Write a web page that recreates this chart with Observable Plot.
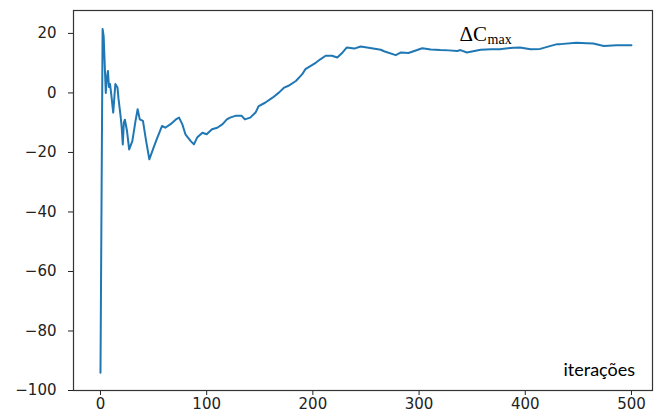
<!DOCTYPE html>
<html>
<head>
<meta charset="utf-8">
<script src="https://cdn.jsdelivr.net/npm/d3@7"></script>
<script src="https://cdn.jsdelivr.net/npm/@observablehq/plot@0.6"></script>
<style>
  html, body { margin: 0; padding: 0; background: #fff; }
  #chart svg { display: block; }
</style>
</head>
<body>
<div id="chart"></div>
<script>
// iteration index and ΔCmax value
const iterations = [0, 2, 3, 5, 6, 7, 8, 9, 10, 12, 14, 16, 17, 19, 20, 21, 22, 23, 25, 27, 30, 33, 35, 37, 40, 43, 46, 50, 53, 56, 58, 61, 66, 71, 74, 77, 80, 85, 88, 91, 96, 100, 105, 110, 115, 119, 122, 127, 133, 136, 141, 146, 149, 155, 162, 168, 173, 177, 184, 190, 193, 198, 203, 207, 212, 218, 223, 228, 232, 239, 245, 251, 264, 267, 278, 283, 290, 303, 311, 320, 328, 336, 339, 345, 358, 368, 376, 389, 395, 405, 414, 424, 430, 433, 448, 458, 464, 471, 474, 486, 500];
const values = [-94, 21.5, 19, 0, 5, 7.4, 2, 3, 0, -6.6, 3, 1.8, -2, -8, -11.7, -17.3, -10, -9, -12.8, -19, -16.2, -9.4, -5.5, -8.9, -9.4, -16.2, -22.3, -18.4, -15.5, -12.8, -11.1, -11.7, -10.5, -8.9, -8.3, -10.5, -13.9, -16.2, -17.3, -15, -13.4, -13.9, -12.2, -11.7, -10.5, -8.9, -8.3, -7.7, -7.7, -8.9, -8.3, -6.6, -4.4, -3.3, -1.6, 0.1, 1.8, 2.4, 4, 6.3, 8, 9.1, 10.2, 11.3, 12.5, 12.5, 11.9, 13.6, 15.3, 14.9, 15.6, 15.3, 14.5, 14.0, 12.7, 13.6, 13.4, 15, 14.6, 14.4, 14.3, 14.1, 14.4, 13.6, 14.5, 14.7, 14.7, 15.2, 15.3, 14.7, 14.8, 15.8, 16.4, 16.4, 16.9, 16.7, 16.6, 16.0, 15.8, 16.0, 16.0];

const xTicks = [0, 100, 200, 300, 400, 500];
const yTicks = [-100, -80, -60, -40, -20, 0, 20];

// annotation labels (data-space anchors)
const seriesLabel = [{x: 338, y: 17.5, text: "ΔC"}];
const seriesLabelSub = [{x: 364.5, y: 16.5, text: "max"}];
const axisLabel = [{x: 436, y: -95, text: "iterações"}];

const data = iterations.map((it, i) => ({it, v: values[i]}));

const chart = Plot.plot({
  width: 657,
  height: 414,
  marginLeft: 73,
  marginRight: 5,
  marginTop: 10,
  marginBottom: 24,
  style: {fontFamily: "DejaVu Sans", fontSize: "15px", color: "#222", background: "#fff"},
  x: {domain: [-25.4, 519.8], ticks: xTicks, tickSize: 5, tickPadding: 3, label: null},
  y: {domain: [-100, 27.7], ticks: yTicks, tickSize: 5, tickPadding: 12, label: null},
  marks: [
    Plot.frame({stroke: "#333", strokeWidth: 1.2}),
    Plot.line(data, {x: "it", y: "v", stroke: "#1f77b4", strokeWidth: 2}),
    Plot.text(seriesLabel, {x: "x", y: "y", text: "text", textAnchor: "start", lineAnchor: "bottom", fontFamily: "Liberation Serif", fontSize: 21, fill: "#000"}),
    Plot.text(seriesLabelSub, {x: "x", y: "y", text: "text", textAnchor: "start", lineAnchor: "bottom", fontFamily: "Liberation Serif", fontSize: 14, fill: "#000"}),
    Plot.text(axisLabel, {x: "x", y: "y", text: "text", textAnchor: "start", lineAnchor: "bottom", fontFamily: "Lato", fontSize: 18, fill: "#000"})
  ]
});
document.getElementById("chart").appendChild(chart);
</script>
</body>
</html>
